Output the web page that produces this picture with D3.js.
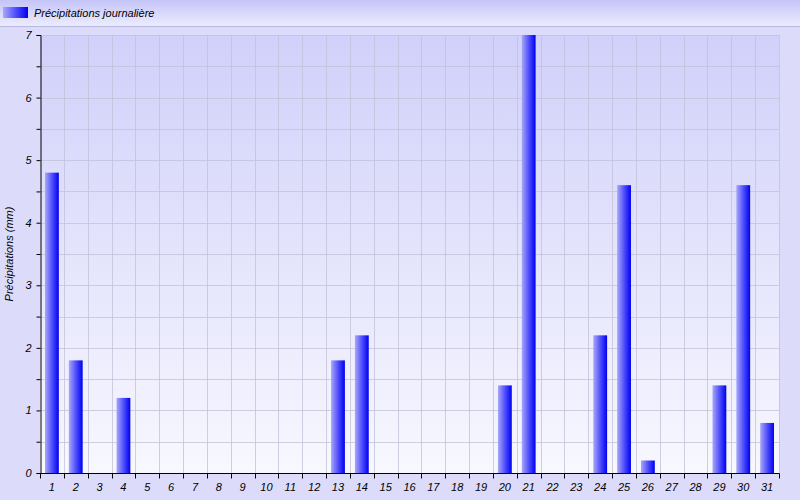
<!DOCTYPE html>
<html><head><meta charset="utf-8">
<script src="https://cdn.jsdelivr.net/npm/d3@7"></script>
<style>body{margin:0;background:#dcdcfa;}svg{display:block;font-family:"Liberation Sans",Arial,sans-serif;}</style>
</head><body>
<svg id="c" width="800" height="500"></svg>
<script>
const days = d3.range(1, 32).map(String);
const values = [4.8,1.8,0,1.2,0,0,0,0,0,0,0,0,1.8,2.2,0,0,0,0,0,1.4,7.0,0,0,2.2,4.6,0.2,0,0,1.4,4.6,0.8];
const yTicks = [0,1,2,3,4,5,6,7];
const seriesName = "Précipitations journalière";
const yTitle = "Précipitations (mm)";

const svg = d3.select("#c");
const W = 800, H = 500;
const m = {l: 40, r: 21, t: 35, b: 27};
const defs = svg.append("defs");
const g1 = defs.append("linearGradient").attr("id","bg").attr("x1",0).attr("y1",0).attr("x2",0).attr("y2",1);
g1.append("stop").attr("offset","0%").attr("stop-color","#d0d0fa");
g1.append("stop").attr("offset","100%").attr("stop-color","#f8f8ff");
const g2 = defs.append("linearGradient").attr("id","bar").attr("x1",0).attr("y1",0).attr("x2",1).attr("y2",0);
g2.append("stop").attr("offset","0%").attr("stop-color","#a8a8fa");
g2.append("stop").attr("offset","55%").attr("stop-color","#4848fc");
g2.append("stop").attr("offset","100%").attr("stop-color","#0000f0");
const g3 = defs.append("linearGradient").attr("id","leg").attr("x1",0).attr("y1",0).attr("x2",0).attr("y2",1);
g3.append("stop").attr("offset","0%").attr("stop-color","#c4c4f8");
g3.append("stop").attr("offset","100%").attr("stop-color","#ececfd");

svg.append("rect").attr("width",W).attr("height",H).attr("fill","#dcdcfa");
svg.append("rect").attr("width",W).attr("height",26).attr("fill","url(#leg)");
svg.append("line").attr("x1",0).attr("x2",W).attr("y1",26.5).attr("y2",26.5).attr("stroke","#b8b8e0");

const x = d3.scaleBand().domain(days).range([m.l, W - m.r]).paddingInner(0.42).paddingOuter(0.21);
const xb = d3.scaleLinear().domain([0, days.length]).range([m.l, W - m.r]);
const y = d3.scaleLinear().domain([0, 7]).range([H - m.b, m.t]);

svg.append("rect").attr("x",m.l).attr("y",m.t).attr("width",W-m.r-m.l).attr("height",H-m.b-m.t).attr("fill","url(#bg)");

// grid
const grid = svg.append("g").attr("stroke","#c0c0d8").attr("stroke-opacity",0.75);
d3.range(1, days.length+1).forEach(i => {
  grid.append("line").attr("x1",Math.round(xb(i))+0.5).attr("x2",Math.round(xb(i))+0.5).attr("y1",m.t).attr("y2",H-m.b);
});
d3.range(0.5, 7.01, 0.5).forEach(v => {
  grid.append("line").attr("x1",m.l).attr("x2",W-m.r).attr("y1",Math.round(y(v))+0.5).attr("y2",Math.round(y(v))+0.5);
});

// bars
svg.append("g").selectAll("rect").data(values.map((v,i)=>({d:days[i],v}))).join("rect")
  .filter(d => d.v > 0)
  .attr("x", d => x(d.d)).attr("width", x.bandwidth())
  .attr("y", d => y(d.v)).attr("height", d => y(0) - y(d.v))
  .attr("fill","url(#bar)");

// axes
const ya = svg.append("g").attr("transform",`translate(${m.l+0.5},0)`)
  .call(d3.axisLeft(y).tickValues(d3.range(0,7.01,0.5)).tickSize(4).tickFormat(d => Number.isInteger(d) ? d : ""));
ya.select(".domain").attr("stroke","#000");
ya.selectAll("text").attr("font-size",11).attr("font-style","italic").attr("fill","#000").attr("dx",-2);

const xa = svg.append("g").attr("transform",`translate(0,${H-m.b+0.5})`);
xa.append("line").attr("x1",m.l).attr("x2",W-m.r+0.5).attr("stroke","#000");
d3.range(0, days.length+1).forEach(i => {
  xa.append("line").attr("x1",Math.round(xb(i))+0.5).attr("x2",Math.round(xb(i))+0.5).attr("y1",0).attr("y2",5).attr("stroke","#000");
});
xa.selectAll("text.lbl").data(days).join("text").attr("class","lbl")
  .attr("x", d => x(d) + x.bandwidth()/2).attr("y", 17)
  .attr("text-anchor","middle").attr("font-size",11).attr("font-style","italic").text(d => d);

svg.append("text").attr("transform",`translate(13,${(m.t+H-m.b)/2}) rotate(-90)`)
  .attr("text-anchor","middle").attr("font-size",11).attr("font-style","italic").text(yTitle);

// legend
svg.append("rect").attr("x",3).attr("y",7).attr("width",25).attr("height",11).attr("fill","url(#bar)");
svg.append("text").attr("x",34).attr("y",17).attr("font-size",11).attr("font-style","italic").text(seriesName);
</script>
</body></html>
